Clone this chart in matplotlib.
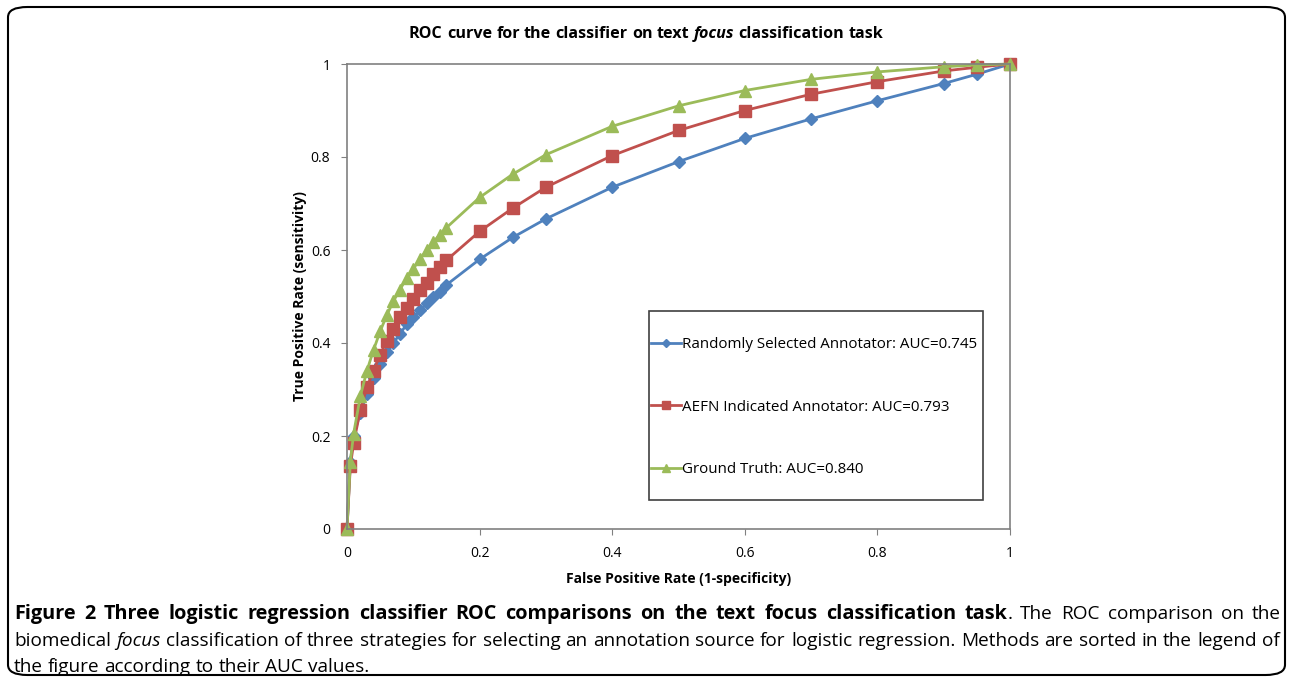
import matplotlib
matplotlib.use("Agg")
from matplotlib import pyplot as plt
from matplotlib.patches import FancyBboxPatch, Rectangle

plt.rcParams['font.family'] = ['Open Sans', 'DejaVu Sans']

# false positive rate (shared by all three curves)
fpr = [0, 0.005, 0.01, 0.02, 0.03, 0.04, 0.05, 0.06, 0.07, 0.08, 0.09, 0.10,
       0.11, 0.12, 0.13, 0.14, 0.15, 0.20, 0.25, 0.30, 0.40, 0.50, 0.60, 0.70,
       0.80, 0.90, 0.95, 1.0]

tpr_random = [0, 0.145, 0.20, 0.25, 0.29, 0.325, 0.355, 0.38, 0.40, 0.42, 0.44, 0.455,
              0.47, 0.485, 0.50, 0.51, 0.525, 0.58, 0.627, 0.667, 0.735, 0.79, 0.84, 0.882,
              0.921, 0.958, 0.978, 1.0]
tpr_aefn = [0, 0.135, 0.185, 0.255, 0.305, 0.34, 0.375, 0.405, 0.43, 0.455, 0.475, 0.495,
            0.515, 0.53, 0.548, 0.563, 0.578, 0.64, 0.69, 0.735, 0.803, 0.857, 0.90, 0.935,
            0.962, 0.985, 0.993, 1.0]
tpr_truth = [0, 0.145, 0.205, 0.285, 0.34, 0.385, 0.425, 0.46, 0.49, 0.515, 0.54, 0.56,
             0.58, 0.60, 0.617, 0.633, 0.648, 0.713, 0.763, 0.805, 0.866, 0.91, 0.943, 0.967,
             0.983, 0.994, 0.998, 1.0]

labels = ['Randomly Selected Annotator: AUC=0.745',
          'AEFN Indicated Annotator: AUC=0.793',
          'Ground Truth: AUC=0.840']

x_ticks = [0, 0.2, 0.4, 0.6, 0.8, 1]
x_tick_labels = ['0', '0.2', '0.4', '0.6', '0.8', '1']
y_ticks = [0, 0.2, 0.4, 0.6, 0.8, 1]
y_tick_labels = ['0', '0.2', '0.4', '0.6', '0.8', '1']

title_parts = [('ROC curve for the classifier on text ', 'normal'),
               ('focus', 'italic'),
               (' classification task', 'normal')]

caption_lines = [
    [('Figure 2 Three logistic regression classifier ROC comparisons on the text focus classification task', 'bold', 'normal'),
     ('. The ROC comparison on the', 'normal', 'normal')],
    [('biomedical ', 'normal', 'normal'), ('focus', 'normal', 'italic'),
     (' classification of three strategies for selecting an annotation source for logistic regression. Methods are sorted in the legend of', 'normal', 'normal')],
    [('the figure according to their AUC values.', 'normal', 'normal')],
]

W, H = 1292, 683
fig = plt.figure(figsize=(W / 100, H / 100), dpi=100)
ax = fig.add_axes([347 / W, 1 - 529 / H, (1010 - 347) / W, (529 - 64) / H])

ax.plot(fpr, tpr_random, color='#4F81BD', lw=2, marker='D', ms=6, label=labels[0])
ax.plot(fpr, tpr_aefn, color='#C0504D', lw=2, marker='s', ms=8, label=labels[1])
ax.plot(fpr, tpr_truth, color='#9BBB59', lw=2, marker='^', ms=9, label=labels[2])

ax.set_xlim(0, 1)
ax.set_ylim(0, 1)
ax.set_xticks(x_ticks)
ax.set_xticklabels(x_tick_labels)
ax.set_yticks(y_ticks)
ax.set_yticklabels(y_tick_labels)
ax.tick_params(labelsize=10, length=4, color='#808080', direction='out', pad=8)
for s in ax.spines.values():
    s.set_color('#808080')
    s.set_linewidth(1.2)
for m in ax.lines:
    m.set_clip_on(False)

ax.set_xlabel('False Positive Rate (1-specificity)', fontsize=10, fontweight='bold', labelpad=8)
ax.set_ylabel('True Positive Rate (sensitivity)', fontsize=10, fontweight='bold', labelpad=3)

# legend box drawn by hand so the padding can differ horizontally / vertically
ax.add_patch(Rectangle((0.4555, 0.0624), 0.5035, 0.4065, transform=ax.transAxes,
                       fill=True, facecolor='white', edgecolor='#404040', lw=1.2, zorder=5))
leg = ax.legend(loc='upper left', bbox_to_anchor=(0.458, 0.412), fontsize=10.9,
                labelspacing=3.12, handlelength=2.0, handletextpad=0.1,
                markerscale=0.7, borderpad=0, borderaxespad=0, frameon=False)
leg.set_zorder(6)

fig.canvas.draw()
renderer = fig.canvas.get_renderer()

BOLD_SIZE = 14.3
REG_SIZE = 13.7


def width_of(text, size, weight, style):
    t = fig.text(0, 0, text, fontsize=size, fontweight=weight, fontstyle=style)
    w = t.get_window_extent(renderer).width
    t.remove()
    return w


def draw_line(parts, x0, y, size, target=None):
    # size can be a number or a function of the weight
    sz = size if callable(size) else (lambda wt: size)
    toks = []
    pending = False
    for text, weight, style in parts:
        for j, w in enumerate(text.split(' ')):
            if j > 0:
                pending = True
            if w:
                toks.append((w, weight, style, pending and len(toks) > 0))
                pending = False
    widths = [width_of(t[0], sz(t[1]), t[1], t[2]) for t in toks]
    spaces = [width_of('x x', sz(t[1]), t[1], 'normal') - width_of('xx', sz(t[1]), t[1], 'normal')
              for t in toks]
    extra = 0
    gaps = sum(1 for t in toks if t[3])
    if target is not None and gaps:
        natural = sum(widths) + sum(s for t, s in zip(toks, spaces) if t[3])
        extra = (target - x0 - natural) / gaps
    x = x0
    for t, w, s in zip(toks, widths, spaces):
        if t[3]:
            x += s + extra
        fig.text(x / W, 1 - y / H, t[0], fontsize=sz(t[1]), fontweight=t[1], fontstyle=t[2],
                 va='baseline')
        x += w


# centered title
tw = sum(width_of(p[0], 11.6, 'bold', p[1]) for p in title_parts)
draw_line([(p[0], 'bold', p[1]) for p in title_parts], W / 2 - tw / 2, 38, 11.6)

cap_size = lambda wt: BOLD_SIZE if wt == 'bold' else REG_SIZE
draw_line(caption_lines[0], 14, 619, cap_size, target=1281)
draw_line(caption_lines[1], 14, 645.5, cap_size, target=1280)
draw_line(caption_lines[2], 14, 672, cap_size)

fig.patches.append(FancyBboxPatch((8 / W, 8 / H), (1285 - 8) / W, (676 - 8) / H,
                                  boxstyle='round,pad=0,rounding_size=0.015',
                                  transform=fig.transFigure, fill=False,
                                  edgecolor='black', linewidth=1.5))

fig.savefig('out.png', dpi=100)
